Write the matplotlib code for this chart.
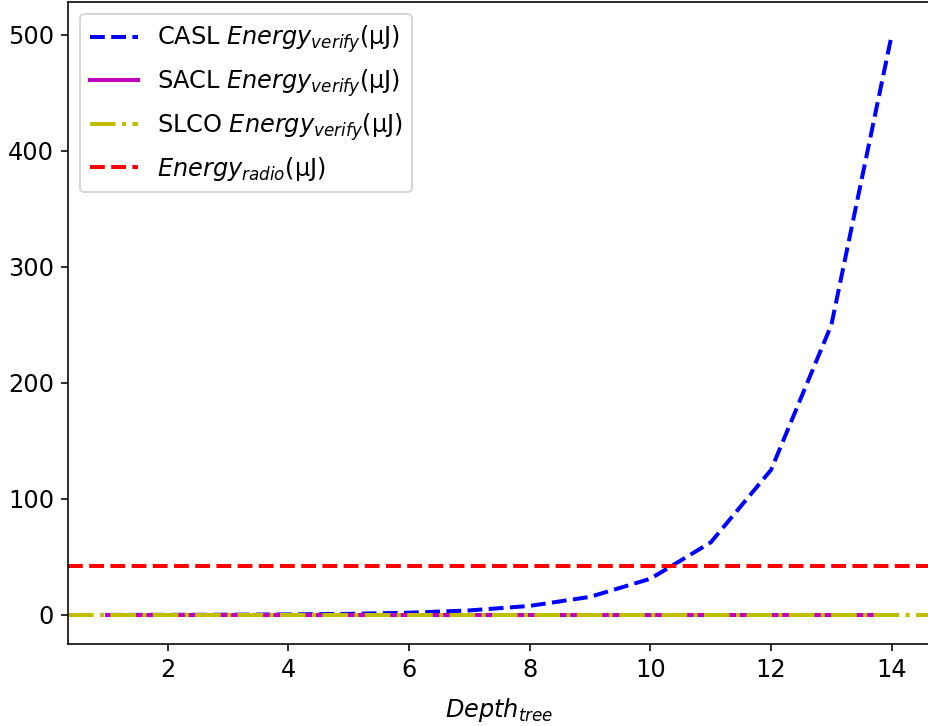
import matplotlib
matplotlib.use("Agg")
import matplotlib.pyplot as plt

depth = [1, 2, 3, 4, 5, 6, 7, 8, 9, 10, 11, 12, 13, 14]
casl_energy = [0.06, 0.12, 0.24, 0.49, 0.98, 1.95, 3.9, 7.8, 15.6, 31.2, 62.5, 125.0, 250.0, 500.0]
sacl_energy = [0.3, 0.3, 0.3, 0.3, 0.3, 0.3, 0.3, 0.3, 0.3, 0.3, 0.3, 0.3, 0.3, 0.3]
slco_energy = 0.3
radio_energy = 42.0

plt.rcParams['font.size'] = 12
plt.rcParams['lines.linewidth'] = 2

fig = plt.figure(figsize=(928/144, 726/144), dpi=144)
ax = fig.add_axes([68/928, (726-644)/726, (931-68)/928, (644-2)/726])

ax.plot(depth, casl_energy, 'b--', label='CASL $Energy_{verify}$(μJ)')
ax.plot(depth, sacl_energy, 'm-', label='SACL $Energy_{verify}$(μJ)')
ax.axhline(slco_energy, color='y', linestyle='-.', label='SLCO $Energy_{verify}$(μJ)')
ax.axhline(radio_energy, color='r', linestyle='--', label='$Energy_{radio}$(μJ)')

ax.set_xlim(0.35, 14.65)
ax.set_ylim(-25, 528)
ax.set_xticks([2, 4, 6, 8, 10, 12, 14])
ax.set_yticks([0, 100, 200, 300, 400, 500])
ax.set_xlabel('$Depth_{tree}$', labelpad=7)
ax.legend(loc='upper left')

fig.savefig('out.png', dpi=144)
